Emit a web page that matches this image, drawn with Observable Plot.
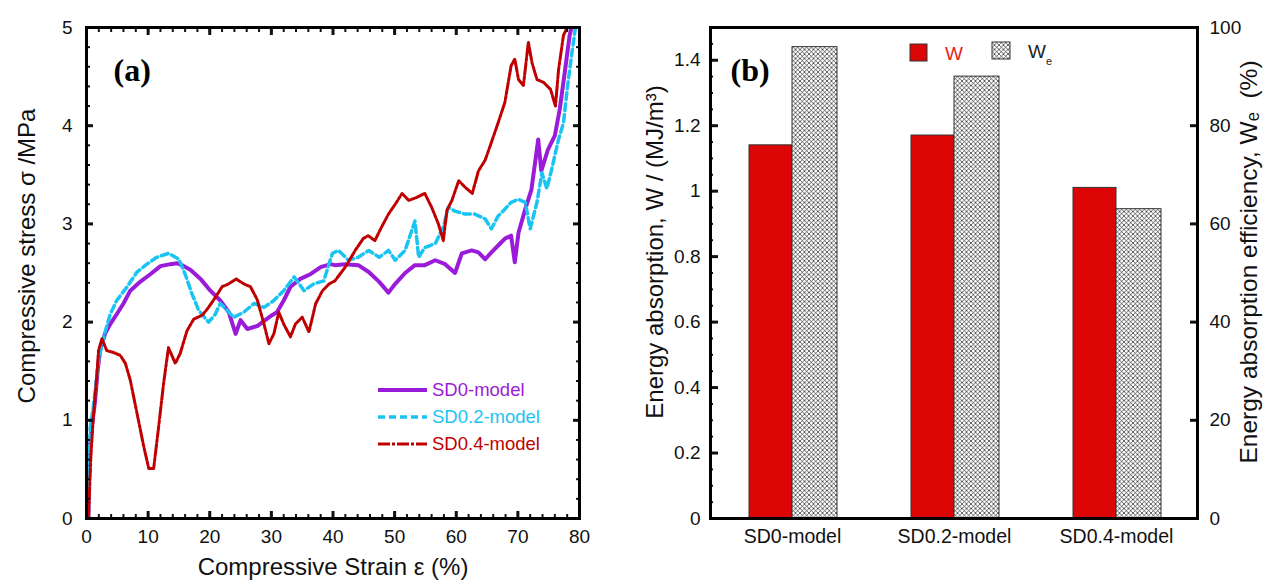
<!DOCTYPE html>
<html>
<head>
<meta charset="utf-8">
<script src="https://cdn.jsdelivr.net/npm/d3@7"></script>
<script src="https://cdn.jsdelivr.net/npm/@observablehq/plot@0.6"></script>
<style>
  body { margin: 0; background: #fff; font-family: "Liberation Sans", Arial, sans-serif; }
  #wrap { position: relative; width: 1271px; height: 585px; overflow: hidden; background: #fff; }
  #pa { position: absolute; left: 0; top: 0; }
  #pb { position: absolute; left: 620px; top: 0; }
  #leg { position: absolute; left: 0; top: 0; pointer-events: none; }
</style>
</head>
<body>
<div id="wrap">
  <div id="pa"></div>
  <div id="pb"></div>
  <svg id="leg" width="1271" height="585" font-family="Liberation Sans, Arial, sans-serif">
    <!-- legend (a) -->
    <line x1="378" x2="427" y1="390" y2="390" stroke="#9a1bd8" stroke-width="4"/>
    <text x="432" y="390" dy="0.35em" fill="#9a1bd8" font-size="18.5">SD0-model</text>
    <line x1="378" x2="427" y1="417" y2="417" stroke="#1ac4f2" stroke-width="3.5" stroke-dasharray="7,4"/>
    <text x="432" y="417" dy="0.35em" fill="#1ac4f2" font-size="18.5">SD0.2-model</text>
    <line x1="378" x2="427" y1="444" y2="444" stroke="#c00000" stroke-width="3" stroke-dasharray="12,2,3,2"/>
    <text x="432" y="444" dy="0.35em" fill="#c00000" font-size="18.5">SD0.4-model</text>
    <!-- legend (b) -->
    <rect x="910" y="44" width="17" height="17" fill="#dd0606" stroke="#333" stroke-width="1"/>
    <text x="945" y="53" dy="0.35em" fill="#e8231c" font-size="19">W</text>
    <rect x="992" y="42" width="18" height="17" fill="url(#hatch)" stroke="#333" stroke-width="1"/>
    <text x="1028" y="51" dy="0.35em" fill="#222" font-size="19">W<tspan font-size="11" dy="7">e</tspan></text>
  </svg>
</div>
<script>
// ---------- Panel (a) data: compressive strain (%) vs stress (MPa) ----------
const sd0Strain = [0.3,0.4,0.6,1.0,1.4,1.8,2.2,3.0,3.85,4.9,6.0,7.1,8.7,10.4,12.0,13.6,14.7,15.8,16.9,18.5,20.1,21.7,23.1,24.2,25.0,26.1,27.7,29.0,30.1,30.9,32.0,33.1,34.7,36.4,38.0,39.6,40.3,42.0,44.1,45.8,47.5,49.0,50.1,51.7,53.3,54.9,56.6,58.2,59.8,60.9,62.5,63.6,64.7,65.7,66.8,67.9,68.9,69.5,70.1,71.2,72.2,73.3,73.8,74.9,76.0,76.8,77.6,78.4,78.7];
const sd0Stress = [0,0.4,0.79,1.0,1.2,1.5,1.71,1.88,1.98,2.08,2.19,2.32,2.41,2.49,2.57,2.59,2.6,2.57,2.53,2.44,2.32,2.22,2.10,1.88,2.02,1.93,1.96,2.02,2.07,2.10,2.22,2.36,2.44,2.49,2.56,2.59,2.58,2.59,2.58,2.51,2.41,2.30,2.39,2.50,2.58,2.58,2.63,2.59,2.50,2.70,2.73,2.71,2.64,2.71,2.78,2.85,2.88,2.61,2.91,3.15,3.35,3.86,3.54,3.76,3.90,4.17,4.54,4.92,5.0];

const sd02Strain = [0.3,0.4,0.6,1.1,1.95,2.8,3.85,4.9,6.6,8.2,9.8,11.4,13.3,15.0,16.0,17.1,18.2,19.8,20.9,21.7,22.8,23.9,25.5,27.2,28.8,30.4,32.0,33.7,35.3,36.9,38.5,39.9,40.9,42.5,44.1,45.8,47.5,49.0,50.1,51.7,53.3,53.9,54.9,56.6,57.9,58.7,59.8,61.4,63.0,64.7,65.7,66.8,67.9,68.9,70.1,71.2,72.0,73.1,73.9,74.7,75.5,76.6,77.4,78.0,78.7,79.3];
const sd02Stress = [0,0.5,0.93,1.13,1.61,1.85,2.08,2.22,2.36,2.51,2.59,2.66,2.70,2.64,2.49,2.29,2.12,2.0,2.08,2.19,2.12,2.05,2.10,2.19,2.15,2.22,2.32,2.46,2.32,2.39,2.42,2.70,2.73,2.63,2.66,2.73,2.66,2.73,2.63,2.73,3.03,2.66,2.76,2.80,2.97,3.17,3.13,3.10,3.10,3.05,2.95,3.08,3.15,3.22,3.25,3.22,2.95,3.22,3.52,3.36,3.56,3.86,4.03,4.37,4.71,4.98];

const sd04Strain = [0.33,0.7,1.1,1.7,1.95,2.5,3.3,4.4,5.5,6.3,7.1,8.2,9.3,10.1,10.9,11.7,12.5,13.3,14.4,15.2,16.3,17.4,18.8,19.8,20.9,22.0,23.1,24.3,25.5,26.6,27.7,28.8,29.6,30.4,31.2,32.0,33.1,33.9,35.0,36.1,37.2,38.3,39.4,40.3,42.0,43.6,44.9,45.7,46.8,47.9,49.0,50.1,51.2,52.3,53.6,54.9,56.0,57.1,57.9,58.5,59.3,60.4,61.5,62.6,63.6,64.7,65.7,66.8,67.9,68.9,69.5,70.1,70.9,71.7,72.3,73.1,74.2,75.3,76.1,76.6,77.4,78.0];
const sd04Stress = [0,0.62,1.03,1.47,1.71,1.83,1.71,1.69,1.66,1.58,1.41,1.07,0.73,0.51,0.51,0.93,1.37,1.74,1.58,1.68,1.91,2.03,2.07,2.15,2.25,2.36,2.39,2.44,2.39,2.36,2.23,1.98,1.78,1.88,2.10,1.98,1.85,1.98,2.05,1.90,2.19,2.32,2.39,2.42,2.56,2.73,2.85,2.88,2.83,2.97,3.10,3.20,3.31,3.24,3.27,3.31,3.17,3.00,2.83,3.14,3.24,3.44,3.37,3.31,3.54,3.65,3.83,4.03,4.24,4.61,4.68,4.47,4.41,4.85,4.64,4.47,4.44,4.37,4.20,4.57,4.92,5.0];

const strainTicks = [0,10,20,30,40,50,60,70,80];
const stressTicks = [0,1,2,3,4,5];

// ---------- Panel (b) data ----------
const models = ["SD0-model","SD0.2-model","SD0.4-model"];
const energyW = [1.14, 1.17, 1.01];        // MJ/m^3 (left axis)
const efficiencyWe = [96, 90, 63];         // % (right axis)
const energyTicks = [0,0.2,0.4,0.6,0.8,1,1.2,1.4];
const effTicks = [0,20,40,60,80,100];

const FONT = "Liberation Sans, Arial, sans-serif";
const C0 = "#9a1bd8", C2 = "#1ac4f2", C4 = "#c00000", BAR = "#dd0606";

const toRows = (xs, ys) => xs.map((x, i) => ({strain: x, stress: ys[i]}));
const blank = () => "";

// ---------- Panel (a) ----------
const pa = Plot.plot({
  width: 620, height: 585,
  marginLeft: 86, marginRight: 41, marginTop: 27, marginBottom: 67,
  style: {fontFamily: FONT, fontSize: "18px", color: "#111", background: "transparent", overflow: "visible"},
  x: {domain: [0, 80]},
  y: {domain: [0, 5]},
  marks: [
    Plot.line(toRows(sd0Strain, sd0Stress), {x: "strain", y: "stress", stroke: C0, strokeWidth: 4, clip: true}),
    Plot.line(toRows(sd02Strain, sd02Stress), {x: "strain", y: "stress", stroke: C2, strokeWidth: 3.5, strokeDasharray: "7,4", clip: true}),
    Plot.line(toRows(sd04Strain, sd04Stress), {x: "strain", y: "stress", stroke: C4, strokeWidth: 3, strokeDasharray: "12,2,3,2", clip: true}),
    Plot.axisX({anchor: "bottom", ticks: strainTicks, tickSize: 0, tickPadding: 11, label: null, fontSize: 19, tickFormat: d => String(d)}),
    Plot.axisX({anchor: "bottom", ticks: strainTicks, tickSize: -7, tickFormat: blank, label: null, strokeWidth: 3}),
    Plot.axisX({anchor: "bottom", ticks: d3.range(0, 81, 2), tickSize: -4, tickFormat: blank, label: null, strokeWidth: 2}),
    Plot.axisX({anchor: "top", ticks: strainTicks, tickSize: -7, tickFormat: blank, label: null, strokeWidth: 3}),
    Plot.axisX({anchor: "top", ticks: d3.range(0, 81, 2), tickSize: -4, tickFormat: blank, label: null, strokeWidth: 2}),
    Plot.axisY({anchor: "left", ticks: stressTicks, tickSize: 0, tickPadding: 14, label: null, fontSize: 19, tickFormat: d => String(d)}),
    Plot.axisY({anchor: "left", ticks: stressTicks, tickSize: -7, tickFormat: blank, label: null, strokeWidth: 3}),
    Plot.axisY({anchor: "left", ticks: d3.range(0, 5.01, 0.2), tickSize: -4, tickFormat: blank, label: null, strokeWidth: 2}),
    Plot.axisY({anchor: "right", ticks: stressTicks, tickSize: -7, tickFormat: blank, label: null, strokeWidth: 3}),
    Plot.axisY({anchor: "right", ticks: d3.range(0, 5.01, 0.2), tickSize: -4, tickFormat: blank, label: null, strokeWidth: 2}),
    Plot.frame({strokeWidth: 3, stroke: "#000"}),
    Plot.text(["(a)"], {frameAnchor: "top-left", dx: 27, dy: 43, textAnchor: "start", lineAnchor: "middle", fontFamily: "Liberation Serif, Times New Roman, serif", fontWeight: "bold", fontSize: 32, fill: "#000"}),
    Plot.text(["Compressive Strain ε (%)"], {frameAnchor: "bottom", dy: 49, textAnchor: "middle", lineAnchor: "middle", fontSize: 24, fill: "#111"}),
    Plot.text(["Compressive stress σ /MPa"], {frameAnchor: "left", dx: -59, dy: -17, rotate: -90, textAnchor: "middle", lineAnchor: "middle", fontSize: 24, fill: "#111"})
  ]
});
document.getElementById("pa").appendChild(pa);

// ---------- Panel (b) ----------
const W_MAX = 1.5, E_MAX = 100;
const barRows = models.map((m, i) => ({model: m, w: energyW[i], we: efficiencyWe[i]}));
const pb = Plot.plot({
  width: 651, height: 585,
  marginLeft: 90, marginRight: 74, marginTop: 27, marginBottom: 67,
  style: {fontFamily: FONT, fontSize: "18px", color: "#111", background: "transparent", overflow: "visible"},
  x: {type: "band", domain: models, padding: 0},
  y: {domain: [0, W_MAX]},
  marks: [
    Plot.barY(barRows, {x: "model", y: "w", fill: BAR, stroke: "#333", strokeWidth: 1, insetLeft: 38, insetRight: 81}),
    Plot.barY(barRows, {x: "model", y: d => d.we * W_MAX / E_MAX, fill: "url(#hatch)", stroke: "#333", strokeWidth: 1, insetLeft: 81, insetRight: 36}),
    Plot.axisX({anchor: "bottom", tickSize: 0, tickPadding: 11, label: null, fontSize: 19.5}),
    Plot.axisY({anchor: "left", ticks: energyTicks, tickSize: 0, tickPadding: 10, label: null, fontSize: 19, tickFormat: d => String(+d.toFixed(1))}),
    Plot.axisY({anchor: "left", ticks: energyTicks, tickSize: -8, tickFormat: blank, label: null, strokeWidth: 3}),
    Plot.axisY({anchor: "left", ticks: d3.range(0, 1.501, 0.05), tickSize: -3, tickFormat: blank, label: null, strokeWidth: 2}),
    Plot.axisY({anchor: "right", ticks: effTicks.map(t => t * W_MAX / E_MAX), tickSize: 0, tickPadding: 12, label: null, fontSize: 19, tickFormat: d => String(Math.round(d * E_MAX / W_MAX))}),
    Plot.axisY({anchor: "right", ticks: effTicks.map(t => t * W_MAX / E_MAX), tickSize: -8, tickFormat: blank, label: null, strokeWidth: 3}),
    Plot.frame({strokeWidth: 3, stroke: "#000"}),
    Plot.text(["(b)"], {frameAnchor: "top-left", dx: 20, dy: 43, textAnchor: "start", lineAnchor: "middle", fontFamily: "Liberation Serif, Times New Roman, serif", fontWeight: "bold", fontSize: 32, fill: "#000"}),
    Plot.text(["Energy absorption, W / (MJ/m³)"], {frameAnchor: "left", dx: -55, dy: -21, rotate: -90, textAnchor: "middle", lineAnchor: "middle", fontSize: 24, fill: "#111"}),
    Plot.text(["Energy absorption efficiency, Wₑ  (%)"], {frameAnchor: "right", dx: 52, dy: -11, rotate: -90, textAnchor: "middle", lineAnchor: "middle", fontSize: 24.5, fill: "#111"})
  ]
});
document.getElementById("pb").appendChild(pb);

// cross-hatch pattern used by the W_e bars and legend swatch
const defs = d3.select(pb).insert("defs", ":first-child");
const pat = defs.append("pattern").attr("id", "hatch").attr("patternUnits", "userSpaceOnUse").attr("width", 4.5).attr("height", 4.5);
pat.append("rect").attr("width", 4.5).attr("height", 4.5).attr("fill", "#fff");
pat.append("path").attr("d", "M0,0L4.5,4.5M4.5,0L0,4.5").attr("stroke", "#000").attr("stroke-width", 0.6).attr("fill", "none");
</script>
</body>
</html>
